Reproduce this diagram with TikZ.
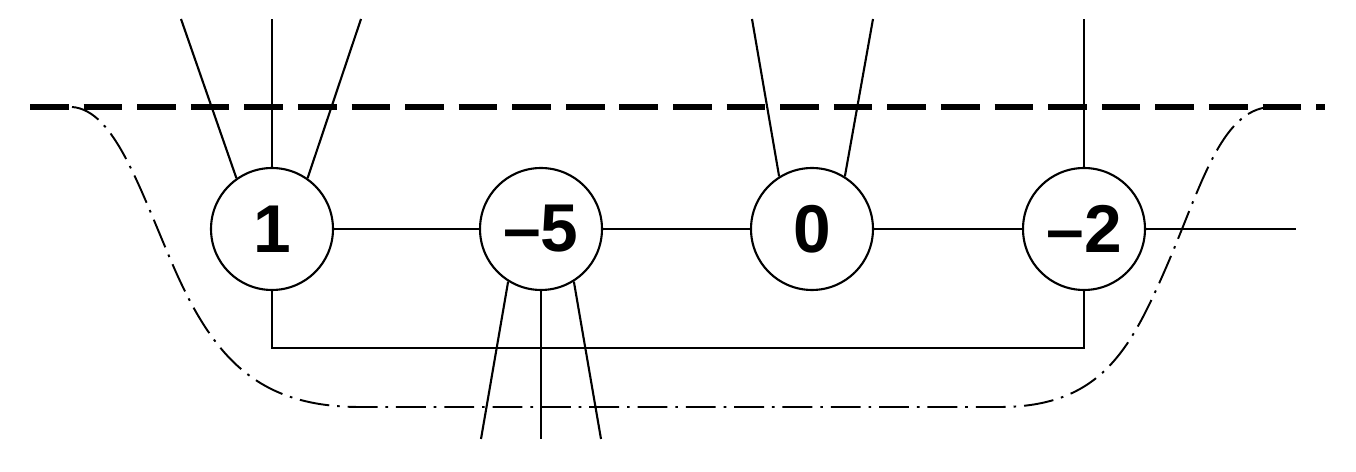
\documentclass[tikz,border=0pt]{standalone}
\usepackage{fontspec}
\setmainfont{Liberation Sans}
\begin{document}
\begin{tikzpicture}%
	[	x={(0.02cm, 0cm)},
	y={(0cm, -0.02cm)},
	edge/.style={color=black, line width=1.2pt},
	cutline/.style={color=black, line width=3.4pt, dash pattern=on 22pt off 8.5pt},
	region/.style={color=black, line width=1.1pt, dash pattern=on 17pt off 4.5pt on 1.5pt off 4.5pt},
	vertex/.style={circle, draw=black, line width=1.2pt, fill=white, inner sep=0pt, minimum size=2.44cm, font=\fontsize{38.5}{40}\selectfont\bfseries}]

\useasboundingbox (0,0) rectangle (1356,472);

\coordinate (oneleft) at (181,19);
\coordinate (onetop) at (272,19);
\coordinate (oneright) at (361,19);
\coordinate (fiveleft) at (481,439);
\coordinate (fivebottom) at (541,439);
\coordinate (fiveright) at (601,439);
\coordinate (zeroleft) at (752,19);
\coordinate (zeroright) at (873,19);
\coordinate (twotop) at (1084,19);
\coordinate (twoend) at (1296,229);
\coordinate (loopcorner) at (272,348);
\coordinate (cutwest) at (30,107);
\coordinate (cuteast) at (1325,107);

\draw[cutline] (cutwest) -- (cuteast);

\draw[region] (72,107) .. controls (115,110) and (140,190) .. (175,270) .. controls (215,360) and (260,407) .. (360,407) -- (1000,407) .. controls (1100,407) and (1130,350) .. (1165,270) .. controls (1200,190) and (1220,110) .. (1270,107);

\node[vertex] (one) at (272,229) {1};
\node[vertex] (minusfive) at (541,229) {\textendash5};
\node[vertex] (zero) at (812,229) {0};
\node[vertex] (minustwo) at (1084,229) {\textendash2};

\draw[edge] (one.125) -- (oneleft);
\draw[edge] (one) -- (onetop);
\draw[edge] (one.55) -- (oneright);
\draw[edge] (minusfive.238) -- (fiveleft);
\draw[edge] (minusfive) -- (fivebottom);
\draw[edge] (minusfive.302) -- (fiveright);
\draw[edge] (zero.122) -- (zeroleft);
\draw[edge] (zero.58) -- (zeroright);
\draw[edge] (minustwo) -- (twotop);
\draw[edge] (minustwo) -- (twoend);
\draw[edge] (one) -- (minusfive);
\draw[edge] (minusfive) -- (zero);
\draw[edge] (zero) -- (minustwo);
\draw[edge] (one) -- (loopcorner) -| (minustwo);
\end{tikzpicture}
\end{document}
